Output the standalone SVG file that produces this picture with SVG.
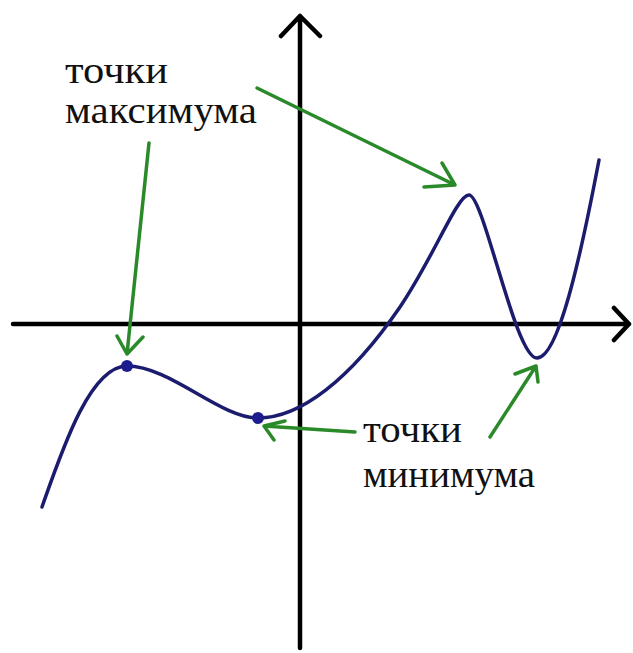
<svg xmlns="http://www.w3.org/2000/svg" width="633" height="653" viewBox="0 0 633 653">
<style>
.axis{stroke:#000;stroke-width:4.5;fill:none;stroke-linecap:round;stroke-linejoin:round}
.curve{stroke:#1c1c6e;stroke-width:3.5;fill:none;stroke-linecap:round}
.ptr{stroke:#2a8a2a;stroke-width:3.5;fill:none;stroke-linecap:round;stroke-linejoin:round}
.lbl{font-family:"Liberation Serif","DejaVu Serif","Times New Roman",serif;font-size:37px;fill:#111}
.dot{fill:#1c1c8e}
</style>
<rect width="633" height="653" fill="#fff"/>
<g id="axes">
<path class="axis" d="M13,324 H629 M614,308 L629,324 L614,340"/>
<path class="axis" d="M300,648 V16 M281,36 L300,16 L320,36"/>
</g>
<g id="curve">
<path class="curve" d="M42,507 C62,450 90,366 127,366 C170,366 220,418 258,418 C300,418 350,380 400,307 C435,255 457,195 469,195 C484,195 515,358 537,358 C558,358 580,260 599,160"/>
<circle class="dot" cx="127" cy="366" r="6"/>
<circle class="dot" cx="258" cy="418" r="6"/>
</g>
<g id="connectors">
<path class="ptr" d="M149,143 L127,354 M117,336 L127,354 L143,337"/>
<path class="ptr" d="M257,88 L455,185 M442,163 L455,185 L424,187"/>
<path class="ptr" d="M355,432 L264,426 M285,421 L264,426 L274,440"/>
<path class="ptr" d="M490,437 L536,366 M515,374 L536,366 L538,382"/>
</g>
<g id="label-max">
<text class="lbl" x="65" y="83" textLength="103" lengthAdjust="spacingAndGlyphs">точки</text>
<text class="lbl" x="65" y="123" textLength="192" lengthAdjust="spacingAndGlyphs">максимума</text>
</g>
<g id="label-min">
<text class="lbl" x="363" y="442" textLength="99" lengthAdjust="spacingAndGlyphs">точки</text>
<text class="lbl" x="363" y="487" textLength="172" lengthAdjust="spacingAndGlyphs">минимума</text>
</g>
</svg>
